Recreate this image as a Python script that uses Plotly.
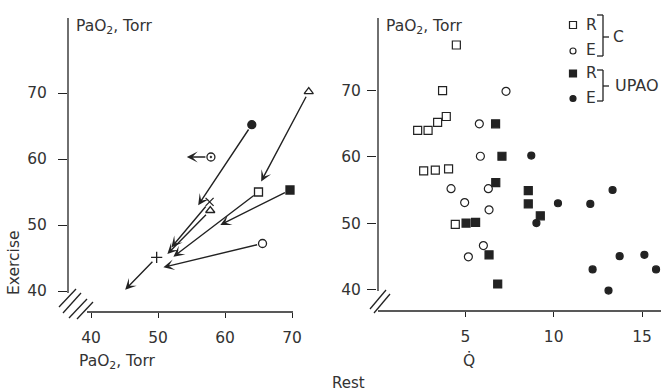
import plotly.graph_objects as go

W, H = 661, 392

# ---------------- data ----------------
# Left panel: arrows from first to second PaO2 (x: rest, y: exercise)
arrow_start_x = [64.0, 72.5, 65.0, 69.7, 65.6, 57.8, 57.7, 49.8, 57.9]
arrow_start_y = [65.2, 70.2, 55.0, 55.3, 47.2, 52.2, 53.5, 45.1, 60.3]
arrow_end_x = [56.0, 65.4, 52.3, 59.3, 50.8, 51.4, 52.0, 45.1, 54.3]
arrow_end_y = [53.0, 56.6, 45.2, 50.0, 43.6, 45.6, 46.6, 40.2, 60.3]
arrow_symbols = ['circle', 'triangle-up-open', 'square-open', 'square', 'circle-open',
                 'triangle-up-open', 'x-thin-open', 'cross-thin-open', 'circle-open-dot']

left_ticks = [40, 50, 60, 70]

# Right panel: PaO2 vs Q-dot
c_rest_q = [4.49, 3.71, 3.92, 3.43, 2.30, 2.89, 2.64, 3.30, 4.05, 4.43]
c_rest_pao2 = [76.9, 70.0, 66.1, 65.2, 64.0, 64.0, 57.9, 58.0, 58.2, 49.8]
c_ex_q = [7.30, 5.79, 5.85, 4.19, 6.30, 4.96, 6.34, 6.02, 5.17]
c_ex_pao2 = [69.9, 65.0, 60.1, 55.2, 55.2, 53.1, 52.0, 46.6, 44.9]
u_rest_q = [6.71, 7.07, 6.72, 8.56, 8.56, 9.24, 5.04, 5.58, 6.34, 6.83]
u_rest_pao2 = [65.0, 60.1, 56.1, 54.9, 52.9, 51.1, 50.0, 50.1, 45.2, 40.8]
u_ex_q = [8.73, 13.33, 10.24, 12.07, 9.02, 13.73, 15.13, 12.20, 15.79, 13.10]
u_ex_pao2 = [60.2, 55.0, 53.0, 52.9, 50.0, 45.0, 45.2, 43.0, 43.0, 39.8]

right_xticks = [5, 10, 15]
right_yticks = [40, 50, 60, 70]

# ---------------- styling helpers ----------------
INK = '#222222'
TXT = '#333333'
FONT = 'DejaVu Sans'
FS = 15.5


def px(x):
    return x / W


def py(y):
    return 1 - y / H


fig = go.Figure()

# left panel markers (start points)
fig.add_trace(go.Scatter(
    x=arrow_start_x, y=arrow_start_y, mode='markers', xaxis='x', yaxis='y',
    marker=dict(symbol=arrow_symbols, size=8, color=INK,
                line=dict(color=INK, width=1.3)),
    showlegend=False, hoverinfo='skip', cliponaxis=False))

annotations = []
for sx, sy, ex, ey in zip(arrow_start_x, arrow_start_y, arrow_end_x, arrow_end_y):
    annotations.append(dict(
        x=ex, y=ey, ax=sx, ay=sy, xref='x', yref='y', axref='x', ayref='y',
        text='', showarrow=True, arrowhead=3, arrowsize=1.3, arrowwidth=1.4,
        arrowcolor=INK, startstandoff=4))

# right panel scatter
mk_line = dict(color=INK, width=1.2)
fig.add_trace(go.Scatter(x=c_rest_q, y=c_rest_pao2, mode='markers', xaxis='x2', yaxis='y2',
                         marker=dict(symbol='square-open', size=8, color=INK, line=mk_line),
                         showlegend=False, hoverinfo='skip', cliponaxis=False))
fig.add_trace(go.Scatter(x=c_ex_q, y=c_ex_pao2, mode='markers', xaxis='x2', yaxis='y2',
                         marker=dict(symbol='circle-open', size=8, color=INK, line=mk_line),
                         showlegend=False, hoverinfo='skip', cliponaxis=False))
fig.add_trace(go.Scatter(x=u_rest_q, y=u_rest_pao2, mode='markers', xaxis='x2', yaxis='y2',
                         marker=dict(symbol='square', size=8, color=INK, line=mk_line),
                         showlegend=False, hoverinfo='skip', cliponaxis=False))
fig.add_trace(go.Scatter(x=u_ex_q, y=u_ex_pao2, mode='markers', xaxis='x2', yaxis='y2',
                         marker=dict(symbol='circle', size=7, color=INK, line=mk_line),
                         showlegend=False, hoverinfo='skip', cliponaxis=False))

axis_common = dict(showline=False, showgrid=False, zeroline=False, ticks='outside',
                   tickcolor=INK, tickwidth=1.2,
                   tickfont=dict(family=FONT, size=FS, color=TXT))

fig.update_layout(
    width=W, height=H, margin=dict(l=0, r=0, t=0, b=0),
    paper_bgcolor='white', plot_bgcolor='white',
    xaxis=dict(domain=[px(68), px(315)], range=[36.567, 73.433], tickvals=left_ticks,
               ticklen=5, anchor='y', ticklabelstandoff=6, **axis_common),
    yaxis=dict(domain=[py(312), py(18)], range=[36.818, 81.364], tickvals=left_ticks,
               ticklen=9, anchor='x', ticklabelstandoff=8, **axis_common),
    xaxis2=dict(domain=[px(377), 1.0], range=[0, 16.07], tickvals=right_xticks,
                ticklen=5, anchor='y2', ticklabelstandoff=6, **axis_common),
    yaxis2=dict(domain=[py(311), py(18)], range=[36.72, 80.98], tickvals=right_yticks,
                ticklen=9, anchor='x2', ticklabelstandoff=3, **axis_common),
)

shapes = []


def pline(x0, y0, x1, y1, w=1.3):
    shapes.append(dict(type='line', xref='paper', yref='paper',
                       x0=px(x0), y0=py(y0), x1=px(x1), y1=py(y1),
                       line=dict(color=INK, width=w)))


# left axes lines with break
pline(68, 18, 68, 293)
pline(87, 312, 293, 312)
pline(59, 307, 76, 289)
pline(63, 313, 81, 293)
pline(69, 318, 87, 299)
pline(77, 319, 93, 302)
# right axes lines with break
pline(378, 18, 378, 291)
pline(378, 311, 661, 311)
pline(370, 309, 386, 290)
pline(374, 313, 390, 294)

# legend markers
shapes.append(dict(type='rect', xref='paper', yref='paper', x0=px(569.5), x1=px(576.5),
                   y0=py(28.5), y1=py(21.5), line=dict(color=INK, width=1.2)))
shapes.append(dict(type='circle', xref='paper', yref='paper', x0=px(570), x1=px(576),
                   y0=py(54), y1=py(48), line=dict(color=INK, width=1.2)))
shapes.append(dict(type='rect', xref='paper', yref='paper', x0=px(569.5), x1=px(576.5),
                   y0=py(77), y1=py(70), line=dict(color=INK, width=1.2), fillcolor=INK))
shapes.append(dict(type='circle', xref='paper', yref='paper', x0=px(570), x1=px(576),
                   y0=py(101.5), y1=py(95.5), line=dict(color=INK, width=1.2), fillcolor=INK))
# brackets
pline(597, 15, 603, 15)
pline(603, 15, 603, 56)
pline(597, 56, 603, 56)
pline(603, 37, 609, 37)
pline(597, 70, 603, 70)
pline(603, 70, 603, 101)
pline(597, 101, 603, 101)
pline(603, 86, 609, 86)

fig.update_layout(shapes=shapes)


def ptext(x, y, s, xanchor='left', size=FS, angle=0):
    annotations.append(dict(x=px(x), y=py(y), xref='paper', yref='paper', text=s,
                            showarrow=False, xanchor=xanchor, yanchor='middle',
                            textangle=angle,
                            font=dict(family=FONT, size=size, color=TXT)))


ptext(584, 25, 'R')
ptext(584, 50, 'E')
ptext(584, 73, 'R')
ptext(584, 98, 'E')
ptext(611, 37, 'C')
ptext(613, 86, 'UPAO', size=16)

ptext(74, 27, 'PaO<sub>2</sub>, Torr')
ptext(384, 27, 'PaO<sub>2</sub>, Torr')
ptext(77, 362, 'PaO<sub>2</sub>, Torr')
ptext(469, 360, 'Q\u0307', xanchor='center')
ptext(348, 383, 'Rest', xanchor='center', size=15)
ptext(14, 263, 'Exercise', xanchor='center', angle=-90)

fig.update_layout(annotations=annotations)

fig.write_html('out.html', config={'displayModeBar': False},
               post_script="document.body.style.margin='0';document.body.style.overflow='hidden';")
